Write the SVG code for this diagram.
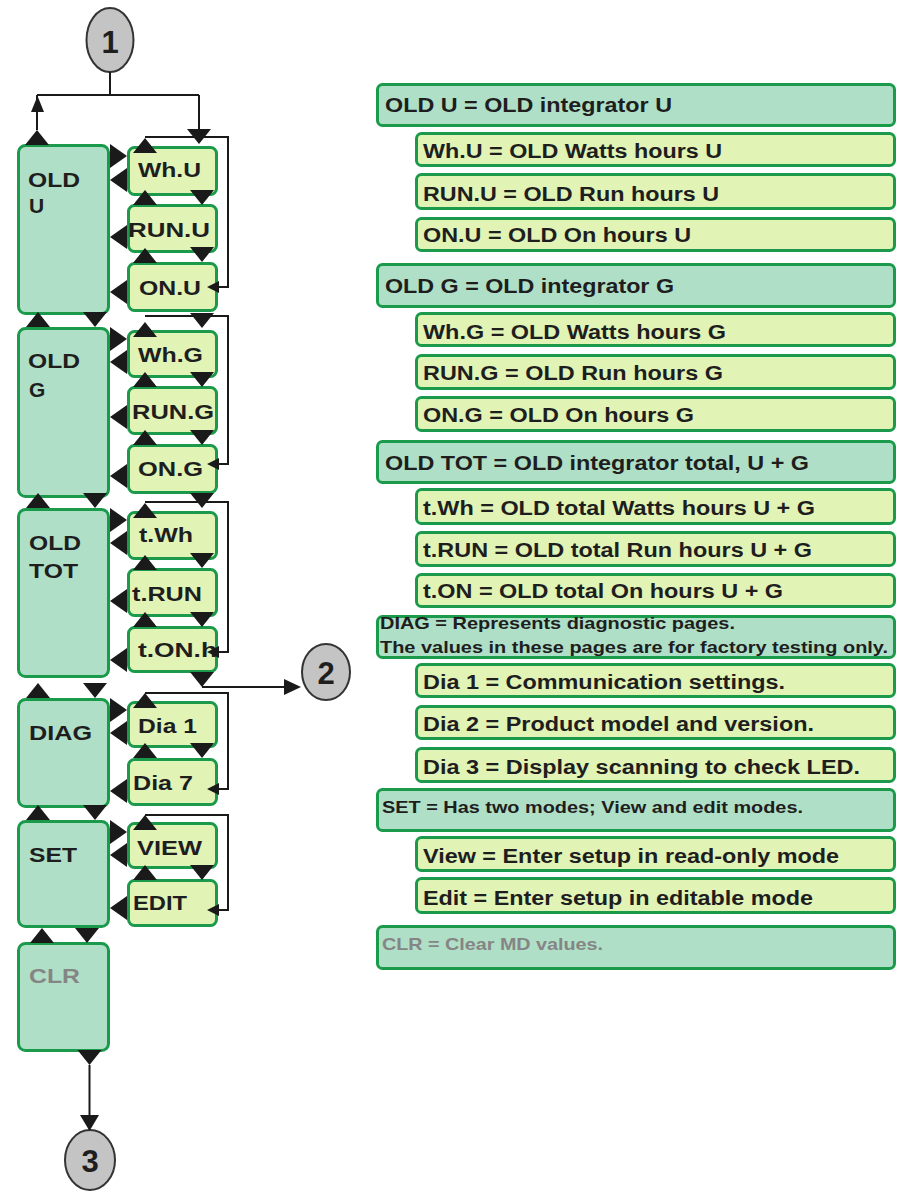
<svg xmlns="http://www.w3.org/2000/svg" xmlns:xlink="http://www.w3.org/1999/xlink" width="898" height="1193" viewBox="0 0 898 1193">
<style>
.lb{fill:#b0dfc7;stroke:#1a9a4a;stroke-width:3}
.sb{fill:#e1f3b5;stroke:#1a9a4a;stroke-width:3}
.t{font-family:"Liberation Sans",Arial,sans-serif;font-weight:bold;fill:#1e1e1e}
.l{font-size:21px}
.r{font-size:20px}
.s{font-size:17px}
.g{fill:#858585}
.d{font-size:31px;text-anchor:middle}
.tri{fill:#1a1a1a}
.ln{fill:none;stroke:#1a1a1a;stroke-width:2}
.cir{fill:#c4c4c4;stroke:#333;stroke-width:2}
</style>
<defs>
<path id="up" d="M-12,0 L12,0 L0,-15 Z"/>
<path id="dn" d="M-12,0 L12,0 L0,15 Z"/>
<path id="lf" d="M0,-12 L0,12 L-17,0 Z"/>
<path id="rt" d="M0,-12 L0,12 L17,0 Z"/>
</defs>
<rect width="898" height="1193" fill="#fff"/>

<!-- left column main boxes -->
<g id="n-oldu"><rect class="lb" x="18.5" y="145.5" width="90" height="168" rx="7"/><text class="t l" x="28" y="187" textLength="52" lengthAdjust="spacingAndGlyphs">OLD</text><text class="t l" x="29" y="213">U</text></g>
<g id="n-oldg"><rect class="lb" x="18.5" y="328.5" width="90" height="168" rx="7"/><text class="t l" x="28" y="368" textLength="52" lengthAdjust="spacingAndGlyphs">OLD</text><text class="t l" x="29" y="397">G</text></g>
<g id="n-oldtot"><rect class="lb" x="18.5" y="509.5" width="90" height="167" rx="7"/><text class="t l" x="29" y="550" textLength="52" lengthAdjust="spacingAndGlyphs">OLD</text><text class="t l" x="29" y="578" textLength="49" lengthAdjust="spacingAndGlyphs">TOT</text></g>
<g id="n-diag"><rect class="lb" x="18.5" y="699.5" width="90" height="107" rx="7"/><text class="t l" x="29" y="740" textLength="63" lengthAdjust="spacingAndGlyphs">DIAG</text></g>
<g id="n-set"><rect class="lb" x="18.5" y="821.5" width="90" height="105" rx="7"/><text class="t l" x="29" y="862" textLength="48" lengthAdjust="spacingAndGlyphs">SET</text></g>
<g id="n-clr"><rect class="lb" x="18.5" y="943.5" width="90" height="107" rx="7"/><text class="t l g" x="29" y="983" textLength="51" lengthAdjust="spacingAndGlyphs">CLR</text></g>

<!-- sub boxes -->
<g id="n-whu"><rect class="sb" x="128.5" y="147.5" width="88" height="47" rx="6"/><text class="t l" x="138" y="177" textLength="63" lengthAdjust="spacingAndGlyphs">Wh.U</text></g>
<g id="n-runu"><rect class="sb" x="128.5" y="205.5" width="88" height="46" rx="6"/><text class="t l" x="128" y="237" textLength="82" lengthAdjust="spacingAndGlyphs">RUN.U</text></g>
<g id="n-onu"><rect class="sb" x="128.5" y="263.5" width="88" height="47" rx="6"/><text class="t l" x="139" y="295" textLength="62" lengthAdjust="spacingAndGlyphs">ON.U</text></g>
<g id="n-whg"><rect class="sb" x="128.5" y="331.5" width="88" height="45" rx="6"/><text class="t l" x="138" y="362" textLength="65" lengthAdjust="spacingAndGlyphs">Wh.G</text></g>
<g id="n-rung"><rect class="sb" x="128.5" y="387.5" width="88" height="46" rx="6"/><text class="t l" x="132" y="419" textLength="82" lengthAdjust="spacingAndGlyphs">RUN.G</text></g>
<g id="n-ong"><rect class="sb" x="128.5" y="445.5" width="88" height="47" rx="6"/><text class="t l" x="138" y="476" textLength="65" lengthAdjust="spacingAndGlyphs">ON.G</text></g>
<g id="n-twh"><rect class="sb" x="128.5" y="512.5" width="88" height="46" rx="6"/><text class="t l" x="139" y="542" textLength="54" lengthAdjust="spacingAndGlyphs">t.Wh</text></g>
<g id="n-trun"><rect class="sb" x="128.5" y="569.5" width="88" height="46" rx="6"/><text class="t l" x="132" y="601" textLength="70" lengthAdjust="spacingAndGlyphs">t.RUN</text></g>
<g id="n-ton"><rect class="sb" x="128.5" y="627.5" width="88" height="44" rx="6"/><text class="t l" x="138" y="657" textLength="79" lengthAdjust="spacingAndGlyphs">t.ON.h</text></g>
<g id="n-dia1"><rect class="sb" x="128.5" y="702.5" width="88" height="44" rx="6"/><text class="t l" x="138" y="733" textLength="59" lengthAdjust="spacingAndGlyphs">Dia 1</text></g>
<g id="n-dia7"><rect class="sb" x="128.5" y="759.5" width="88" height="45" rx="6"/><text class="t l" x="133" y="790" textLength="60" lengthAdjust="spacingAndGlyphs">Dia 7</text></g>
<g id="n-view"><rect class="sb" x="128.5" y="823.5" width="88" height="44" rx="6"/><text class="t l" x="137" y="855" textLength="65" lengthAdjust="spacingAndGlyphs">VIEW</text></g>
<g id="n-edit"><rect class="sb" x="128.5" y="880.5" width="88" height="45" rx="6"/><text class="t l" x="133" y="910" textLength="54" lengthAdjust="spacingAndGlyphs">EDIT</text></g>

<!-- circles -->
<g id="c1"><ellipse class="cir" cx="110" cy="40" rx="23.5" ry="32"/><text class="t d" x="110" y="53">1</text></g>
<g id="c2"><ellipse class="cir" cx="326" cy="672" rx="24" ry="28"/><text class="t d" x="326" y="684">2</text></g>
<g id="c3"><ellipse class="cir" cx="90" cy="1160" rx="25" ry="30"/><text class="t d" x="90" y="1172">3</text></g>

<!-- connectors -->
<g id="connectors">
<path class="ln" d="M110,72 V95 M37,95 H199 M37,95 V130 M199,95 V130"/>
<path class="tri" d="M31,112 L44,112 L37.5,96 Z"/>
<path class="ln" d="M145,137 H228 V287 H214"/>
<path class="ln" d="M145,316 H228 V464 H214"/>
<path class="ln" d="M145,502 H228 V652 H214"/>
<path class="ln" d="M145,693 H228 V789 H214"/>
<path class="ln" d="M145,815 H228 V910 H214"/>
<path class="tri" d="M219,281 L219,293 L207,287 Z M219,458 L219,470 L207,464 Z M219,646 L219,658 L207,652 Z M219,783 L219,795 L207,789 Z M219,904 L219,916 L207,910 Z"/>
<path class="ln" d="M202,687 H286"/>
<path class="tri" d="M284,679 L284,695 L301,687 Z"/>
<path class="ln" d="M89.5,1065 V1116"/>
<path class="tri" d="M80,1115 L99,1115 L89.5,1131 Z"/>
<g class="tri">
<use href="#up" x="37" y="145"/>
<use href="#up" x="38" y="327"/>
<use href="#up" x="38" y="508"/>
<use href="#up" x="38" y="698"/>
<use href="#up" x="38" y="820"/>
<use href="#up" x="42" y="943"/>
<use href="#dn" x="95" y="312"/>
<use href="#dn" x="95" y="493"/>
<use href="#dn" x="95" y="683"/>
<use href="#dn" x="95" y="805"/>
<use href="#dn" x="87" y="928"/>
<use href="#dn" x="89.5" y="1050"/>
<use href="#dn" x="199" y="129"/>
<use href="#rt" x="110" y="156"/>
<use href="#rt" x="110" y="339"/>
<use href="#rt" x="110" y="520"/>
<use href="#rt" x="110" y="710"/>
<use href="#rt" x="110" y="832"/>
<use href="#lf" x="127" y="180"/>
<use href="#lf" x="127" y="237"/>
<use href="#lf" x="127" y="292"/>
<use href="#lf" x="127" y="362"/>
<use href="#lf" x="127" y="417"/>
<use href="#lf" x="127" y="476"/>
<use href="#lf" x="127" y="543"/>
<use href="#lf" x="127" y="601"/>
<use href="#lf" x="127" y="660"/>
<use href="#lf" x="127" y="733"/>
<use href="#lf" x="127" y="791"/>
<use href="#lf" x="127" y="855"/>
<use href="#lf" x="127" y="908"/>
<use href="#up" x="145" y="153"/>
<use href="#up" x="145" y="205"/>
<use href="#up" x="145" y="263"/>
<use href="#up" x="145" y="337"/>
<use href="#up" x="145" y="387"/>
<use href="#up" x="145" y="445"/>
<use href="#up" x="145" y="518"/>
<use href="#up" x="145" y="570"/>
<use href="#up" x="145" y="627"/>
<use href="#up" x="145" y="708"/>
<use href="#up" x="145" y="758"/>
<use href="#up" x="145" y="830"/>
<use href="#up" x="145" y="880"/>
<use href="#dn" x="202" y="190"/>
<use href="#dn" x="202" y="247"/>
<use href="#dn" x="202" y="313"/>
<use href="#dn" x="202" y="372"/>
<use href="#dn" x="202" y="430"/>
<use href="#dn" x="202" y="493"/>
<use href="#dn" x="202" y="553"/>
<use href="#dn" x="202" y="612"/>
<use href="#dn" x="202" y="672"/>
<use href="#dn" x="202" y="743"/>
<use href="#dn" x="202" y="865"/>
</g>
</g>

<!-- legend -->
<g id="k-oldu"><rect class="lb" x="377.5" y="84.5" width="517" height="41" rx="5"/><text class="t r" x="385" y="112" textLength="287" lengthAdjust="spacingAndGlyphs">OLD U = OLD integrator U</text></g>
<g id="k-whu"><rect class="sb" x="416.5" y="133.5" width="478" height="32" rx="5"/><text class="t r" x="423" y="158" textLength="299" lengthAdjust="spacingAndGlyphs">Wh.U = OLD Watts hours U</text></g>
<g id="k-runu"><rect class="sb" x="416.5" y="174.5" width="478" height="34" rx="5"/><text class="t r" x="423" y="201" textLength="296" lengthAdjust="spacingAndGlyphs">RUN.U = OLD Run hours U</text></g>
<g id="k-onu"><rect class="sb" x="416.5" y="218.5" width="478" height="32" rx="5"/><text class="t r" x="423" y="242" textLength="268" lengthAdjust="spacingAndGlyphs">ON.U = OLD On hours U</text></g>
<g id="k-oldg"><rect class="lb" x="377.5" y="264.5" width="517" height="42" rx="5"/><text class="t r" x="385" y="293" textLength="289" lengthAdjust="spacingAndGlyphs">OLD G = OLD integrator G</text></g>
<g id="k-whg"><rect class="sb" x="416.5" y="313.5" width="478" height="32" rx="5"/><text class="t r" x="423" y="339" textLength="303" lengthAdjust="spacingAndGlyphs">Wh.G = OLD Watts hours G</text></g>
<g id="k-rung"><rect class="sb" x="416.5" y="355.5" width="478" height="33" rx="5"/><text class="t r" x="423" y="380" textLength="300" lengthAdjust="spacingAndGlyphs">RUN.G = OLD Run hours G</text></g>
<g id="k-ong"><rect class="sb" x="416.5" y="397.5" width="478" height="33" rx="5"/><text class="t r" x="423" y="422" textLength="271" lengthAdjust="spacingAndGlyphs">ON.G = OLD On hours G</text></g>
<g id="k-oldtot"><rect class="lb" x="377.5" y="441.5" width="517" height="41" rx="5"/><text class="t r" x="385" y="470" textLength="424" lengthAdjust="spacingAndGlyphs">OLD TOT = OLD integrator total, U + G</text></g>
<g id="k-twh"><rect class="sb" x="416.5" y="489.5" width="478" height="34" rx="5"/><text class="t r" x="423" y="515" textLength="392" lengthAdjust="spacingAndGlyphs">t.Wh = OLD total Watts hours U + G</text></g>
<g id="k-trun"><rect class="sb" x="416.5" y="532.5" width="478" height="33" rx="5"/><text class="t r" x="423" y="557" textLength="389" lengthAdjust="spacingAndGlyphs">t.RUN = OLD total Run hours U + G</text></g>
<g id="k-ton"><rect class="sb" x="416.5" y="574.5" width="478" height="32" rx="5"/><text class="t r" x="423" y="598" textLength="360" lengthAdjust="spacingAndGlyphs">t.ON = OLD total On hours U + G</text></g>
<g id="k-diag"><rect class="lb" x="377.5" y="616.5" width="517" height="41" rx="5"/><text class="t s" x="380" y="629" textLength="355" lengthAdjust="spacingAndGlyphs">DIAG = Represents diagnostic pages.</text><text class="t s" x="380" y="653" textLength="508" lengthAdjust="spacingAndGlyphs">The values in these pages are for factory testing only.</text></g>
<g id="k-dia1"><rect class="sb" x="416.5" y="664.5" width="478" height="32" rx="5"/><text class="t r" x="423" y="689" textLength="362" lengthAdjust="spacingAndGlyphs">Dia 1 = Communication settings.</text></g>
<g id="k-dia2"><rect class="sb" x="416.5" y="706.5" width="478" height="32" rx="5"/><text class="t r" x="423" y="731" textLength="391" lengthAdjust="spacingAndGlyphs">Dia 2 = Product model and version.</text></g>
<g id="k-dia3"><rect class="sb" x="416.5" y="748.5" width="478" height="33" rx="5"/><text class="t r" x="423" y="774" textLength="437" lengthAdjust="spacingAndGlyphs">Dia 3 = Display scanning to check LED.</text></g>
<g id="k-set"><rect class="lb" x="377.5" y="789.5" width="517" height="41" rx="5"/><text class="t s" x="382" y="813" textLength="421" lengthAdjust="spacingAndGlyphs">SET = Has two modes; View and edit modes.</text></g>
<g id="k-view"><rect class="sb" x="416.5" y="837.5" width="478" height="33" rx="5"/><text class="t r" x="423" y="863" textLength="416" lengthAdjust="spacingAndGlyphs">View = Enter setup in read-only mode</text></g>
<g id="k-edit"><rect class="sb" x="416.5" y="878.5" width="478" height="34" rx="5"/><text class="t r" x="423" y="905" textLength="390" lengthAdjust="spacingAndGlyphs">Edit = Enter setup in editable mode</text></g>
<g id="k-clr"><rect class="lb" x="377.5" y="926.5" width="517" height="42" rx="5"/><text class="t s g" x="382" y="950" textLength="221" lengthAdjust="spacingAndGlyphs">CLR = Clear MD values.</text></g>
</svg>
